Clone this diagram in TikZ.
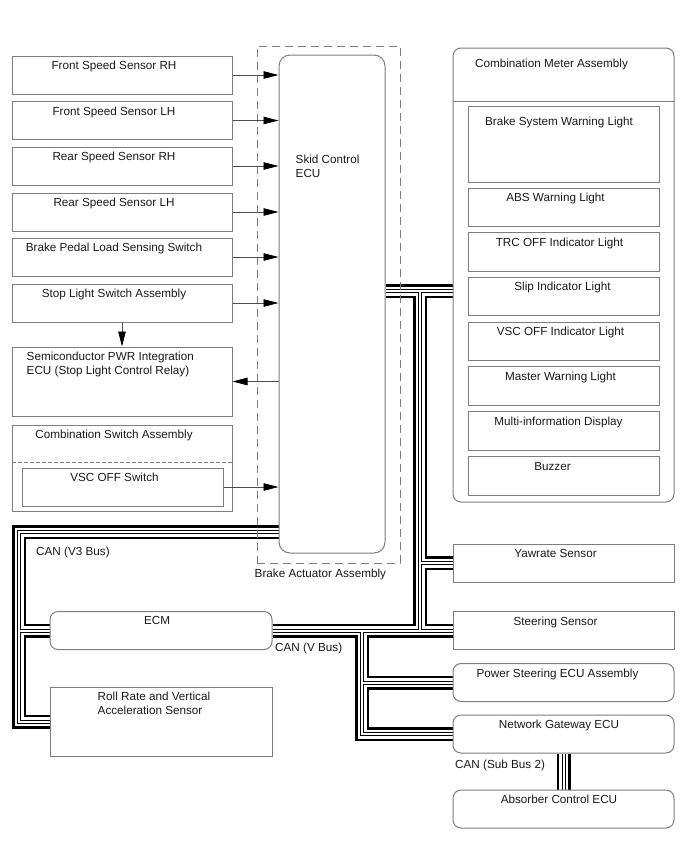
\documentclass[tikz,border=0pt]{standalone}
\usepackage{fontspec}
\setmainfont{Liberation Sans}
\usepackage{xcolor}
\usepackage{tikz}
\usetikzlibrary{arrows.meta, positioning, backgrounds, calc}
\definecolor{framegray}{RGB}{125,125,125}
\definecolor{textgray}{RGB}{25,25,25}
\tikzset{
  unit/.style={rectangle, draw=framegray, line width=1pt, minimum width=220pt,
               minimum height=38pt, inner sep=0pt},
  ecubox/.style={unit, rounded corners=8pt},
  lamp/.style={unit, minimum width=191pt, minimum height=38.5pt},
  txt/.style={anchor=north, xshift=-8pt, yshift=-3.5pt, inner sep=2pt, align=center},
  txtl/.style={anchor=north west, yshift=-3.5pt, inner sep=2pt, align=left},
  sig/.style={-{Triangle[length=15pt, width=7.5pt, color=black, fill=black]},
              line width=0.8pt, draw=black!70},
  actframe/.style={draw=framegray, dash pattern=on 8pt off 5pt, line width=1pt,
                   minimum width=143pt, minimum height=517pt, inner sep=0pt},
  sep/.style={draw=framegray, line width=1pt},
  buslbl/.style={anchor=north west, inner sep=2pt},
}

\begin{document}
\begin{tikzpicture}[x=1pt, y=-1pt, font=\fontsize{11.7}{13.5}\selectfont, text=textgray]
  \useasboundingbox (0,0) rectangle (688,852);

  % Sensors and switches
  \node[unit, label={[txt]north:Front Speed Sensor RH}] (fsrh) at (122,75) {};
  \node[unit, label={[txt]north:Front Speed Sensor LH}] (fslh) at (122,120.5) {};
  \node[unit, label={[txt]north:Rear Speed Sensor RH}] (rsrh) at (122,166) {};
  \node[unit, label={[txt]north:Rear Speed Sensor LH}] (rslh) at (122,212) {};
  \node[unit, label={[txt]north:Brake Pedal Load Sensing Switch}] (bpls) at (122,257) {};
  \node[unit, label={[txt]north:Stop Light Switch Assembly}] (slsw) at (122,303) {};
  \node[unit, minimum height=69pt,
        label={[txtl, xshift=13pt]north west:Semiconductor PWR Integration\\ECU (Stop Light Control Relay)}]
        (relay) at (122,381.5) {};
  \node[unit, minimum height=86pt, label={[txt]north:Combination Switch Assembly}] (cmbsw) at (122,468) {};
  \draw[sep, dash pattern=on 4pt off 2pt] ([yshift=-38pt]cmbsw.north west) -- ([yshift=-38pt]cmbsw.north east);
  \node[unit, minimum width=201pt, label={[txt]north:VSC OFF Switch}] (vscsw) at (122.5,487) {};

  % Brake actuator
  \node[actframe, label={[txtl, xshift=-4pt]south west:Brake Actuator Assembly}] (act) at (328.5,304.5) {};
  \node[unit, rounded corners=11pt, minimum width=106pt, minimum height=498pt,
        label={[txtl, xshift=15pt, yshift=-95pt]north west:Skid Control\\ECU}] (ecu) at (332,304) {};

  % Combination meter
  \node[unit, rounded corners=8pt, minimum width=221pt, minimum height=454pt,
        label={[txt, xshift=-4pt, yshift=-6pt]north:Combination Meter Assembly}] (meter) at (563.5,275) {};
  \draw[sep] ([yshift=-54pt]meter.north west) -- ([yshift=-54pt]meter.north east);
  \node[lamp, minimum height=76pt, label={[txt, xshift=3.5pt, yshift=-6pt]north:Brake System Warning Light}] (bswl) at (563.5,144) {};
  \node[lamp, label={[txt]north:ABS Warning Light}] (absl) at (563.5,207.5) {};
  \node[lamp, label={[txt, xshift=4pt]north:TRC OFF Indicator Light}] (trcl) at (563.5,252) {};
  \node[lamp, label={[txt, xshift=7pt]north:Slip Indicator Light}] (slipl) at (563.5,296.5) {};
  \node[lamp, label={[txt, xshift=5pt]north:VSC OFF Indicator Light}] (vscl) at (563.5,341.5) {};
  \node[lamp, label={[txt, xshift=5pt]north:Master Warning Light}] (mwl) at (563.5,386) {};
  \node[lamp, label={[txt, xshift=3pt]north:Multi-information Display}] (mid) at (563.5,431) {};
  \node[lamp, label={[txt, xshift=-3pt]north:Buzzer}] (buzz) at (563.5,476) {};

  % CAN nodes
  \node[unit, minimum width=221pt, label={[txt]north:Yawrate Sensor}] (yaw) at (563.5,563) {};
  \node[unit, minimum width=221pt, label={[txt]north:Steering Sensor}] (steer) at (563.5,630.5) {};
  \node[ecubox, minimum width=221pt, label={[txt, xshift=2pt]north:Power Steering ECU Assembly}] (pwrst) at (563.5,682.5) {};
  \node[ecubox, minimum width=221pt, label={[txt, xshift=3.5pt]north:Network Gateway ECU}] (gw) at (563.5,734) {};
  \node[ecubox, minimum width=221pt, label={[txt, xshift=3.5pt]north:Absorber Control ECU}] (absecu) at (563.5,809) {};
  \node[ecubox, minimum width=222pt, label={[txt, xshift=4pt]north:ECM}] (ecm) at (161,630.5) {};
  \node[unit, minimum width=222pt, minimum height=69pt,
        label={[txtl, xshift=46pt]north west:Roll Rate and Vertical\\Acceleration Sensor}] (roll) at (161,721.5) {};

  % Signal lines
  \draw[sig] (fsrh.east) -- (fsrh.east -| ecu.west);
  \draw[sig] (fslh.east) -- (fslh.east -| ecu.west);
  \draw[sig] (rsrh.east) -- (rsrh.east -| ecu.west);
  \draw[sig] (rslh.east) -- (rslh.east -| ecu.west);
  \draw[sig] (bpls.east) -- (bpls.east -| ecu.west);
  \draw[sig] (slsw.east) -- (slsw.east -| ecu.west);
  \draw[sig] (slsw.south) -- (relay.north);
  \draw[sig] (relay.east -| ecu.west) -- (relay.east);
  \draw[sig] (vscsw.east) -- (vscsw.east -| ecu.west);

  % Bus labels
  \node[buslbl] (v3bus) at (34,545) {CAN (V3 Bus)};
  \node[buslbl] (vbus) at (273,641) {CAN (V Bus)};
  \node[buslbl] (subbus) at (453,758) {CAN (Sub Bus 2)};

  % CAN buses
  \coordinate (j1) at (420,291);
  \coordinate (j2) at (362,630.5);
  \coordinate (j3) at (19,532);
  \begin{scope}[on background layer]
    \foreach \lw/\col in {14/black, 9/white, 4/black, 2/white} {
      \begin{scope}[line width=\lw pt, draw=\col]
        \draw (ecu.east |- j1) -- (meter.west |- j1);
        \draw (j1) -- (j1 |- steer.west);
        \draw (j1 |- yaw.west) -- (yaw.west);
        \draw (ecm.east) -- (steer.west);
        \draw (j2) -- (j2 |- gw.west) -- (gw.west);
        \draw (j2 |- pwrst.west) -- (pwrst.west);
        \draw (ecu.west |- j3) -- (j3) -- (j3 |- roll.west) -- (roll.west);
        \draw (j3 |- ecm.west) -- (ecm.west);
        \draw (gw.south) -- (absecu.north);
      \end{scope}
    }
  \end{scope}

\end{tikzpicture}
\end{document}
